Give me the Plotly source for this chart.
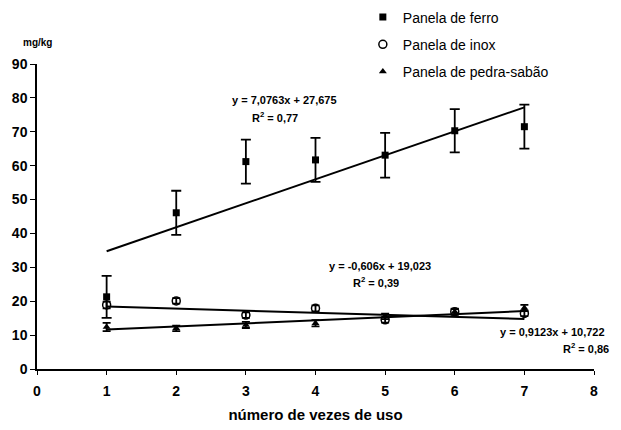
import plotly.graph_objects as go

# ---- data ----
usos = [1, 2, 3, 4, 5, 6, 7]
ferro = [21.3, 46.1, 61.2, 61.7, 63.1, 70.3, 71.5]
ferro_err = [6.2, 6.5, 6.5, 6.5, 6.6, 6.4, 6.5]
inox = [18.9, 20.1, 15.9, 17.9, 14.5, 16.9, 16.4]
inox_err = [1.0, 0.8, 0.8, 0.9, 0.8, 0.8, 0.8]
pedra = [12.4, 12.0, 13.0, 13.5, 15.5, 16.9, 18.0]
pedra_err = [1.2, 0.8, 0.9, 0.9, 0.8, 0.9, 0.9]

# trend line coefficients (slope, intercept) as printed on the chart
trend_ferro = (7.0763, 27.675)
trend_inox = (-0.606, 19.023)
trend_pedra = (0.9123, 10.722)

names = ["Panela de ferro", "Panela de inox", "Panela de pedra-sabão"]
eq_texts = ["y = 7,0763x + 27,675", "y = -0,606x + 19,023", "y = 0,9123x + 10,722"]
r2_texts = ["R<sup>2</sup> = 0,77", "R<sup>2</sup> = 0,39", "R<sup>2</sup> = 0,86"]

x_ticks = list(range(0, 9))
y_ticks = list(range(0, 100, 10))

FONT = "Liberation Sans, Arial, sans-serif"

fig = go.Figure()

# trend lines
for coef in (trend_ferro, trend_inox, trend_pedra):
    ys = [coef[0] * x + coef[1] for x in usos]
    fig.add_trace(go.Scatter(x=usos, y=ys, mode="lines",
                             line=dict(color="black", width=2),
                             showlegend=False, hoverinfo="skip"))

series = [
    (ferro, ferro_err, dict(symbol="square", size=7, color="black"), 5),
    (inox, inox_err, dict(symbol="circle-open", size=8, color="black",
                          line=dict(width=1.5, color="black")), 4),
    (pedra, pedra_err, dict(symbol="triangle-up", size=7, color="black"), 4),
]
for i, (vals, errs, mk, w) in enumerate(series):
    fig.add_trace(go.Scatter(
        x=usos, y=vals, mode="markers", name=names[i], marker=mk,
        legendgroup=f"g{i}",
        error_y=dict(type="data", array=errs, visible=True, color="black",
                     thickness=1.8, width=w),
    ))

# annotations: equations
ann = [
    (3.56, 79.4, eq_texts[0], "center", 0),
    (3.42, 74.4, r2_texts[0], "center", 0),
    (4.93, 30.5, eq_texts[1], "center", 0),
    (4.87, 25.6, r2_texts[1], "center", 0),
    (7.40, 11.0, eq_texts[2], "center", 0),
    (8.0, 6.2, r2_texts[2], "right", 17),
]
for x, y, t, al, xs in ann:
    fig.add_annotation(x=x, y=y, text=t, showarrow=False, xanchor=al,
                       yanchor="middle", xshift=xs,
                       font=dict(family=FONT, size=11, color="black", weight="bold"))

fig.add_annotation(x=0, y=1.07, xref="paper", yref="paper", text="mg/kg",
                   showarrow=False, xanchor="center", yanchor="middle",
                   font=dict(family=FONT, size=10, color="black", weight="bold"))

fig.update_layout(
    width=621, height=430,
    margin=dict(l=37, r=27, t=64, b=61, autoexpand=False),
    paper_bgcolor="white", plot_bgcolor="white",
    font=dict(family=FONT, color="black"),
    showlegend=True,
    legend=dict(x=0.585, y=1.205, xanchor="left", yanchor="top",
                font=dict(family=FONT, size=14, color="black"),
                bgcolor="rgba(0,0,0,0)", tracegroupgap=6,
                itemwidth=30),
    xaxis=dict(range=[0, 8], tickvals=x_ticks, ticks="outside", ticklen=4,
               tickcolor="black", showline=True, linecolor="black",
               linewidth=1.5, showgrid=False, zeroline=False, automargin=False,
               ticklabelstandoff=4,
               tickfont=dict(family=FONT, size=14, color="black", weight="bold"),
               title=dict(text="número de vezes de uso", standoff=12,
                          font=dict(family=FONT, size=15, color="black", weight="bold"))),
    yaxis=dict(range=[0, 90], tickvals=y_ticks, ticks="outside", ticklen=5,
               tickcolor="black", showline=True, linecolor="black",
               linewidth=1.5, showgrid=False, zeroline=False, automargin=False,
               tickfont=dict(family=FONT, size=14, color="black", weight="bold")),
)

fig.write_html("out.html", config={"displayModeBar": False},
               post_script="document.body.style.margin='0px';document.body.style.padding='0px';")
